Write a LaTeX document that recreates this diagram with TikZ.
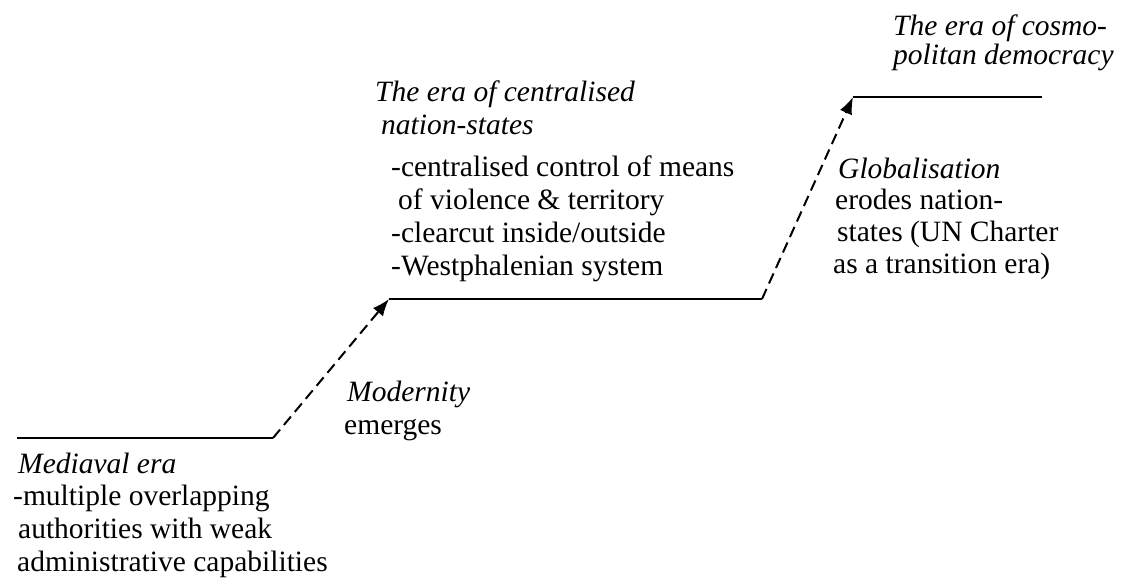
\documentclass[tikz,border=0pt]{standalone}
\usepackage{fontspec}
\setmainfont{Liberation Serif}
\usetikzlibrary{arrows.meta}
\begin{document}
\begin{tikzpicture}[x=1pt,y=-1pt,
  txt/.style={anchor=base west,inner sep=0pt,font=\fontsize{29.5}{33}\selectfont},
  itxt/.style={txt,font=\fontsize{29.5}{33}\selectfont\itshape},
  era/.style={line width=2pt},
  trans/.style={line width=2pt,dash pattern=on 11pt off 6pt,-{Latex[length=17pt,width=13pt]}}]
\useasboundingbox (0,0) rectangle (1129,587);
% era lines
\coordinate (m1) at (17,438);
\coordinate (m2) at (273,438);
\coordinate (c1) at (389,299);
\coordinate (c2) at (762,299);
\coordinate (g1) at (853,97);
\coordinate (g2) at (1042,97);
\draw[era] (m1) -- (m2);
\draw[era] (c1) -- (c2);
\draw[era] (g1) -- (g2);
\draw[trans] (m2) -- (c1);
\draw[trans] (c2) -- (g1);
% mediaval
\node[itxt] (med0) at (18,473) {Mediaval era};
\node[txt] (med1) at (13,505) {-multiple overlapping};
\node[txt] (med2) at (18,538) {authorities with weak};
\node[txt] (med3) at (17,571) {administrative capabilities};
% modernity
\node[itxt] (mod0) at (347,401) {Modernity};
\node[txt] (mod1) at (344,434) {emerges};
% centralised
\node[itxt] (cen0) at (375,101) {The era of centralised};
\node[itxt] (cen1) at (381,134) {nation-states};
\node[txt] (cen2) at (391,176) {-centralised control of means};
\node[txt] (cen3) at (398,209) {of violence \& territory};
\node[txt] (cen4) at (391,242) {-clearcut inside/outside};
\node[txt] (cen5) at (391,275) {-Westphalenian system};
% globalisation
\node[itxt] (glo0) at (838,178) {Globalisation};
\node[txt] (glo1) at (835,209) {erodes nation-};
\node[txt] (glo2) at (837,241) {states (UN Charter};
\node[txt] (glo3) at (833,273) {as a transition era)};
% cosmopolitan
\node[itxt] (cos0) at (893,35) {The era of cosmo-};
\node[itxt] (cos1) at (893,64) {politan democracy};
\end{tikzpicture}
\end{document}
